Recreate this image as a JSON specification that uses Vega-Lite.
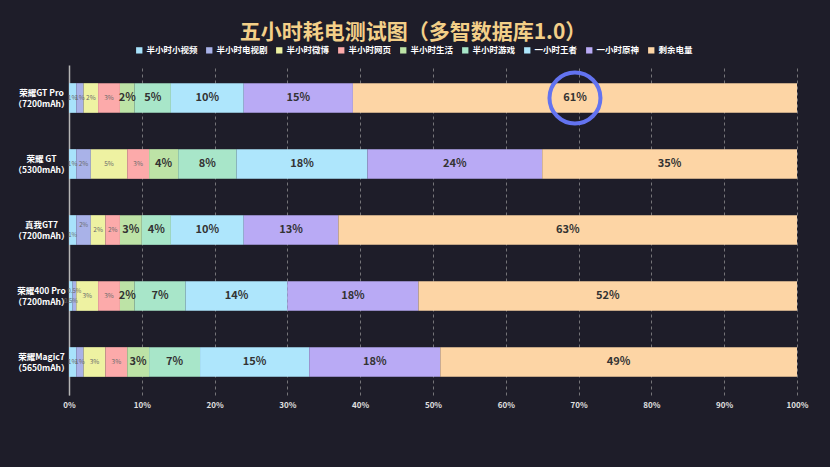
{
  "$schema": "https://vega.github.io/schema/vega-lite/v6.json",
  "width": 728,
  "height": 330,
  "autosize": {"type": "none"},
  "padding": {"left": 69, "top": 65, "right": 33, "bottom": 72},
  "background": "#1e1d29",
  "title": {
    "text": "五小时耗电测试图（多智数据库1.0）",
    "color": "#f3cf88",
    "fontSize": 21,
    "font": "Noto Sans CJK SC",
    "fontWeight": "bold",
    "anchor": "middle",
    "frame": "group",
    "offset": 3,
    "dx": -20
  },
  "config": {
    "view": {"stroke": null},
    "font": "Noto Sans CJK SC"
  },
  "data": {
    "values": [
      {"phone": "荣耀GT Pro|（7200mAh）", "半小时小视频": 0.01, "半小时电视剧": 0.01, "半小时微博": 0.02, "半小时网页": 0.03, "半小时生活": 0.02, "半小时游戏": 0.05, "一小时王者": 0.10, "一小时原神": 0.15, "剩余电量": 0.61},
      {"phone": "荣耀 GT|（5300mAh）", "半小时小视频": 0.01, "半小时电视剧": 0.02, "半小时微博": 0.05, "半小时网页": 0.03, "半小时生活": 0.04, "半小时游戏": 0.08, "一小时王者": 0.18, "一小时原神": 0.24, "剩余电量": 0.35},
      {"phone": "真我GT7|（7200mAh）", "半小时小视频": 0.01, "半小时电视剧": 0.02, "半小时微博": 0.02, "半小时网页": 0.02, "半小时生活": 0.03, "半小时游戏": 0.04, "一小时王者": 0.10, "一小时原神": 0.13, "剩余电量": 0.63},
      {"phone": "荣耀400 Pro|（7200mAh）", "半小时小视频": 0.005, "半小时电视剧": 0.005, "半小时微博": 0.03, "半小时网页": 0.03, "半小时生活": 0.02, "半小时游戏": 0.07, "一小时王者": 0.14, "一小时原神": 0.18, "剩余电量": 0.52},
      {"phone": "荣耀Magic7|（5650mAh）", "半小时小视频": 0.01, "半小时电视剧": 0.01, "半小时微博": 0.03, "半小时网页": 0.03, "半小时生活": 0.03, "半小时游戏": 0.07, "一小时王者": 0.15, "一小时原神": 0.18, "剩余电量": 0.49}
    ]
  },
  "transform": [
    {"fold": ["半小时小视频", "半小时电视剧", "半小时微博", "半小时网页", "半小时生活", "半小时游戏", "一小时王者", "一小时原神", "剩余电量"], "as": ["item", "pct"]},
    {"stack": "pct", "groupby": ["phone"], "as": ["x0", "x1"]}
  ],
  "encoding": {
    "y": {
      "field": "phone",
      "type": "nominal",
      "sort": null,
      "scale": {"paddingInner": 0.55, "paddingOuter": 0.275},
      "axis": {
        "title": null,
        "ticks": false,
        "domain": true,
        "domainColor": "#b5b5b5",
        "domainWidth": 1.5,
        "labelExpr": "split(datum.value, '|')",
        "labelAlign": "center",
        "labelBaseline": "middle",
        "labelPadding": 28,
        "labelOffset": -5,
        "labelFontSize": 8.5,
        "labelLineHeight": 11,
        "labelColor": "#ffffff",
        "labelFontWeight": "bold"
      }
    }
  },
  "layer": [
    {
      "mark": {"type": "bar"},
      "encoding": {
        "x": {
          "field": "x0",
          "type": "quantitative",
          "scale": {"domain": [0, 1]},
          "axis": {
            "title": null,
            "format": "~%",
            "values": [0, 0.1, 0.2, 0.3, 0.4, 0.5, 0.6, 0.7, 0.8, 0.9, 1],
            "domain": false,
            "ticks": false,
            "grid": true,
            "gridDash": [3, 3],
            "gridColor": "#9a9a9a",
            "gridOpacity": 0.7,
            "labelFlush": false,
            "labelFontSize": 8,
            "labelColor": "#e0e0e0",
            "labelFontWeight": "bold",
            "labelPadding": 6
          }
        },
        "x2": {"field": "x1"},
        "color": {
          "field": "item",
          "type": "nominal",
          "scale": {
            "domain": ["半小时小视频", "半小时电视剧", "半小时微博", "半小时网页", "半小时生活", "半小时游戏", "一小时王者", "一小时原神", "剩余电量"],
            "range": ["#a8e2fb", "#a9b2e8", "#eef2a2", "#fcaaaa", "#bde3a6", "#a8e6c9", "#aee6fc", "#b9aaf5", "#fdd5a5"]
          },
          "legend": {
            "title": null,
            "orient": "none",
            "direction": "horizontal",
            "legendX": 66,
            "legendY": -19,
            "symbolType": "square",
            "symbolSize": 40,
            "symbolStrokeWidth": 0,
            "labelFontSize": 8.5,
            "labelColor": "#ffffff",
            "labelFontWeight": "bold",
            "labelOffset": 3,
            "columnPadding": 7
          }
        }
      }
    },
    {
      "transform": [
        {"filter": {"field": "item", "oneOf": ["半小时小视频", "半小时电视剧", "半小时微博", "半小时网页"]}},
        {"filter": {"not": {"and": [
          {"field": "item", "oneOf": ["半小时小视频", "半小时电视剧"]},
          {"field": "phone", "oneOf": ["真我GT7|（7200mAh）", "荣耀400 Pro|（7200mAh）"]}
        ]}}},
        {"fold": ["x0", "x1"], "as": ["edge", "pos"]}
      ],
      "mark": {"type": "text", "fontSize": 6.5, "color": "#6b6b6b", "baseline": "middle"},
      "encoding": {
        "x": {"aggregate": "mean", "field": "pos", "type": "quantitative"},
        "text": {"field": "pct", "type": "quantitative", "format": ".1~%"},
        "detail": {"field": "item"}
      }
    },
    {
      "transform": [
        {"filter": {"field": "item", "equal": "半小时小视频"}},
        {"filter": {"field": "phone", "oneOf": ["真我GT7|（7200mAh）", "荣耀400 Pro|（7200mAh）"]}},
        {"fold": ["x0", "x1"], "as": ["edge", "pos"]}
      ],
      "mark": {"type": "text", "fontSize": 6, "color": "#6b6b6b", "baseline": "middle", "dy": 5},
      "encoding": {
        "x": {"aggregate": "mean", "field": "pos", "type": "quantitative"},
        "text": {"field": "pct", "type": "quantitative", "format": ".1~%"},
        "detail": {"field": "item"}
      }
    },
    {
      "transform": [
        {"filter": {"field": "item", "equal": "半小时电视剧"}},
        {"filter": {"field": "phone", "oneOf": ["真我GT7|（7200mAh）", "荣耀400 Pro|（7200mAh）"]}},
        {"fold": ["x0", "x1"], "as": ["edge", "pos"]}
      ],
      "mark": {"type": "text", "fontSize": 6, "color": "#6b6b6b", "baseline": "middle", "dy": -5},
      "encoding": {
        "x": {"aggregate": "mean", "field": "pos", "type": "quantitative"},
        "text": {"field": "pct", "type": "quantitative", "format": ".1~%"},
        "detail": {"field": "item"}
      }
    },
    {
      "transform": [
        {"filter": {"field": "item", "oneOf": ["半小时生活", "半小时游戏", "一小时王者", "一小时原神", "剩余电量"]}},
        {"fold": ["x0", "x1"], "as": ["edge", "pos"]}
      ],
      "mark": {"type": "text", "fontSize": 11, "fontWeight": "bold", "color": "#333333", "baseline": "middle"},
      "encoding": {
        "x": {"aggregate": "mean", "field": "pos", "type": "quantitative"},
        "text": {"field": "pct", "type": "quantitative", "format": ".1~%"},
        "detail": {"field": "item"}
      }
    },
    {
      "transform": [
        {"filter": {"and": [{"field": "item", "equal": "剩余电量"}, {"field": "phone", "equal": "荣耀GT Pro|（7200mAh）"}]}},
        {"fold": ["x0", "x1"], "as": ["edge", "pos"]}
      ],
      "mark": {"type": "point", "shape": "circle", "filled": false, "size": 2600, "stroke": "#6373f0", "strokeWidth": 4, "opacity": 1},
      "encoding": {
        "x": {"aggregate": "mean", "field": "pos", "type": "quantitative"}
      }
    }
  ]
}
